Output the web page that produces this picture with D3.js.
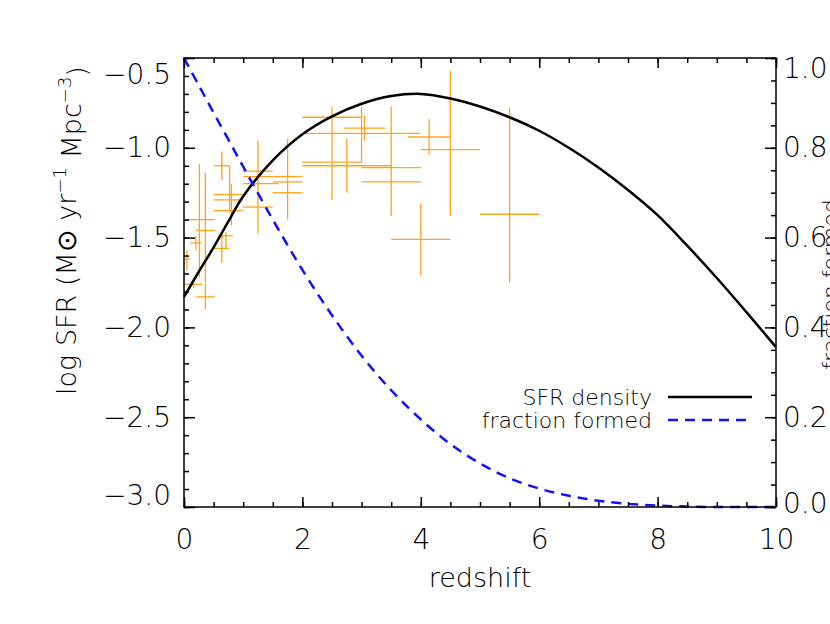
<!DOCTYPE html>
<meta charset="utf-8">
<style>
  body { margin: 0; background: #fff; }
  svg { display: block; }
  text { font-family: "DejaVu Sans", sans-serif; font-weight: 200; fill: #000; }
  .axis path, .axis line { stroke: #000; stroke-width: 1.5; }
  .axis .domain { display: none; }
  .frame { fill: none; stroke: #000; stroke-width: 1.5; }
  .err { stroke: #ffa31a; stroke-width: 1.3; fill: none; }
  .sfr { fill: none; stroke: #000; stroke-width: 2.5; }
  .frac { fill: none; stroke: #1010ff; stroke-width: 2.5; stroke-dasharray: 10, 7; }
</style>
<body>
<script src="https://cdnjs.cloudflare.com/ajax/libs/d3/7.8.5/d3.min.js"></script>
<script>

    // model curves
    var zGrid = [0, 0.25, 0.5, 0.75, 1, 1.5, 2, 2.5, 3, 3.5, 4, 4.5, 5, 5.5, 6, 6.5, 7, 7.5, 8, 8.5, 9, 9.5, 10];
    var sfrDensity = [-1.83, -1.69, -1.555, -1.41, -1.27, -1.07, -0.925, -0.825, -0.755, -0.712, -0.70, -0.725, -0.77,
                      -0.83, -0.905, -1.00, -1.11, -1.235, -1.375, -1.545, -1.725, -1.915, -2.11];
    var fracFormed = [1.0, 0.939, 0.878, 0.818, 0.758, 0.640, 0.528, 0.427, 0.337, 0.26, 0.195, 0.14, 0.097,
                      0.064, 0.041, 0.025, 0.014, 0.007, 0.003, 0.001, 0, 0, 0];

    // observed points: redshift (centre, low, high) and log SFR (centre, low, high)
    var obsZ    = [0.05, 0.16, 0.20, 0.26, 0.36, 0.36, 0.64, 0.77, 0.64, 0.80, 0.75, 0.75, 0.71,
                   1.25, 1.25, 1.25, 1.25, 1.75, 1.75, 1.75, 2.50, 2.50, 2.75, 3.00, 3.50, 3.05,
                   3.50, 3.50, 4.00, 4.14, 4.50, 5.50];
    var obsZlo  = [0.00, 0.02, 0.10, 0.00, 0.20, 0.21, 0.50, 0.77, 0.50, 0.50, 0.50, 0.50, 0.58,
                   1.00, 1.00, 1.00, 1.00, 1.50, 1.50, 1.50, 2.00, 2.00, 2.00, 3.00, 2.00, 2.70,
                   3.00, 3.00, 3.50, 3.78, 4.00, 5.00];
    var obsZhi  = [0.10, 0.31, 0.30, 0.52, 0.52, 0.52, 0.76, 0.77, 0.76, 1.00, 1.00, 1.00, 0.83,
                   1.50, 1.50, 1.60, 1.50, 2.00, 2.00, 2.00, 3.00, 3.00, 3.50, 3.00, 4.00, 3.40,
                   4.00, 4.00, 4.50, 4.50, 5.00, 6.00];
    var obsSfr  = [-1.62, -1.76, -1.53, -1.40, -1.46, -1.83, -1.10, -1.22, -1.56, -1.26, -1.29, -1.35, -1.49,
                   -1.13, -1.16, -1.20, -1.33, -1.16, -1.19, -1.25, -0.83, -1.08, -1.10, -0.92, -0.92, -0.89,
                   -1.11, -1.19, -1.51, -0.94, -1.01, -1.37];
    var obsSfrLo = [-1.68, -1.78, -1.57, -1.72, -1.75, -1.90, -1.18, -1.36, -1.64, -1.43, -1.29, -1.35, -1.56,
                   -1.48, -1.16, -1.20, -1.33, -1.40, -1.19, -1.25, -0.83, -1.29, -1.25, -1.08, -1.38, -0.96,
                   -1.11, -1.19, -1.71, -1.04, -1.38, -1.75];
    var obsSfrHi = [-1.57, -1.735, -1.49, -1.09, -1.14, -1.755, -1.02, -1.10, -1.47, -1.20, -1.29, -1.35, -1.47,
                   -0.96, -1.16, -1.20, -1.33, -0.95, -1.19, -1.25, -0.83, -0.77, -0.95, -0.77, -0.77, -0.82,
                   -1.11, -1.19, -1.31, -0.84, -0.57, -0.78];

    var legendLabels = ["SFR density", "fraction formed"];

    var margin = {top: 58, left: 184},
        width = 592,
        height = 449;

    var x = d3.scaleLinear().domain([0, 10]).range([0, width]);
    var y = d3.scaleLinear().domain([-3, -0.5]).range([height, 0]);
    var yFrac = d3.scaleLinear().domain([0, 1]).range([height, 0]);

    var svg = d3.select("body").append("svg")
            .attr("width", 830)
            .attr("height", 624);

    var g = svg.append("g")
            .attr("transform", "translate(" + margin.left + "," + margin.top + ")");

    // error crosses
    var pts = d3.range(obsZ.length);
    g.append("g").selectAll("line.h").data(pts).enter().append("line")
            .attr("class", "err")
            .attr("x1", function(i) { return x(obsZlo[i]); })
            .attr("x2", function(i) { return x(obsZhi[i]); })
            .attr("y1", function(i) { return y(obsSfr[i]); })
            .attr("y2", function(i) { return y(obsSfr[i]); });
    g.append("g").selectAll("line.v").data(pts).enter().append("line")
            .attr("class", "err")
            .attr("x1", function(i) { return x(obsZ[i]); })
            .attr("x2", function(i) { return x(obsZ[i]); })
            .attr("y1", function(i) { return y(obsSfrLo[i]); })
            .attr("y2", function(i) { return y(obsSfrHi[i]); });

    var sfrLine = d3.line().curve(d3.curveCatmullRom)
            .x(function(d, i) { return x(zGrid[i]); })
            .y(function(d) { return y(d); });
    var fracLine = d3.line().curve(d3.curveCatmullRom)
            .x(function(d, i) { return x(zGrid[i]); })
            .y(function(d) { return yFrac(d); });

    g.append("path").attr("class", "sfr").attr("d", sfrLine(sfrDensity));
    g.append("path").attr("class", "frac").attr("d", fracLine(fracFormed));

    // axes: major + minor ticks, all pointing inward
    function addAxis(axis, cls, tr) {
        var a = g.append("g").attr("class", "axis " + cls);
        if (tr) a.attr("transform", tr);
        a.call(axis);
        return a;
    }

    var fmtY = d3.format(".1f");

    var left = addAxis(d3.axisLeft(y).tickValues(d3.range(-3, -0.49, 0.5)).tickSize(-11).tickPadding(13).tickFormat(fmtY), "yl");
    addAxis(d3.axisLeft(y).tickValues(d3.range(-3, -0.49, 0.1)).tickSize(-5).tickFormat(""), "yl-minor");

    var right = addAxis(d3.axisRight(yFrac).tickValues(d3.range(0, 1.01, 0.2)).tickSize(-11).tickPadding(7).tickFormat(fmtY), "yr", "translate(" + width + ",0)");
    addAxis(d3.axisRight(yFrac).tickValues(d3.range(0, 1.01, 0.05)).tickSize(-5).tickFormat(""), "yr-minor", "translate(" + width + ",0)");

    var bottom = addAxis(d3.axisBottom(x).tickValues(d3.range(0, 10.1, 2)).tickSize(-10).tickPadding(22).tickFormat(d3.format("d")), "xb", "translate(0," + height + ")");
    addAxis(d3.axisBottom(x).tickValues(d3.range(0, 10.1, 0.5)).tickSize(-5).tickFormat(""), "xb-minor", "translate(0," + height + ")");
    addAxis(d3.axisTop(x).tickValues(d3.range(0, 10.1, 2)).tickSize(-10).tickFormat(""), "xt");
    addAxis(d3.axisTop(x).tickValues(d3.range(0, 10.1, 0.5)).tickSize(-5).tickFormat(""), "xt-minor");

    g.selectAll(".axis text").style("font-size", "28px").style("font-family", "\"DejaVu Sans\", sans-serif").style("font-weight", 200);

    // keep the end labels inside the frame like the original
    left.selectAll("text").attr("dy", function(d) {
        if (d > -0.55) return "0.9em";
        if (d < -2.95) return "-0.08em";
        return "0.32em";
    });
    right.selectAll("text").attr("dy", function(d) {
        if (d > 0.95) return "0.68em";
        if (d < 0.05) return "0.18em";
        return "0.32em";
    });

    g.append("rect").attr("class", "frame").attr("width", width).attr("height", height);

    // axis titles
    g.append("text")
            .attr("x", width / 2)
            .attr("y", height + 80)
            .attr("text-anchor", "middle")
            .style("font-size", "27px")
            .text("redshift");

    var yt = g.append("text")
            .attr("transform", "translate(-108," + (height / 2 - 52) + ") rotate(-90)")
            .attr("text-anchor", "middle")
            .style("font-size", "27px");
    yt.append("tspan").text("log SFR (M\u2299 yr");
    yt.append("tspan").attr("dy", "-0.55em").style("font-size", "18px").text("\u22121");
    yt.append("tspan").attr("dy", "0.55em").text(" Mpc");
    yt.append("tspan").attr("dy", "-0.55em").style("font-size", "18px").text("\u22123");
    yt.append("tspan").attr("dy", "0.55em").text(")");

    g.append("text")
            .attr("transform", "translate(" + (width + 62) + "," + (height / 2 + 2) + ") rotate(-90)")
            .attr("text-anchor", "middle")
            .style("font-size", "22px")
            .text("fraction formed");

    // legend
    var leg = g.append("g").attr("transform", "translate(" + (width - 108) + "," + 339 + ")");
    leg.selectAll("text").data(legendLabels).enter().append("text")
            .attr("x", -16)
            .attr("y", function(d, i) { return i * 23; })
            .attr("dy", "0.35em")
            .attr("text-anchor", "end")
            .style("font-size", "22px")
            .text(function(d) { return d; });
    leg.append("line").attr("class", "sfr").attr("x1", 0).attr("x2", 84).attr("y1", 0).attr("y2", 0);
    leg.append("line").attr("class", "frac").attr("x1", 0).attr("x2", 80).attr("y1", 23).attr("y2", 23);

</script>
